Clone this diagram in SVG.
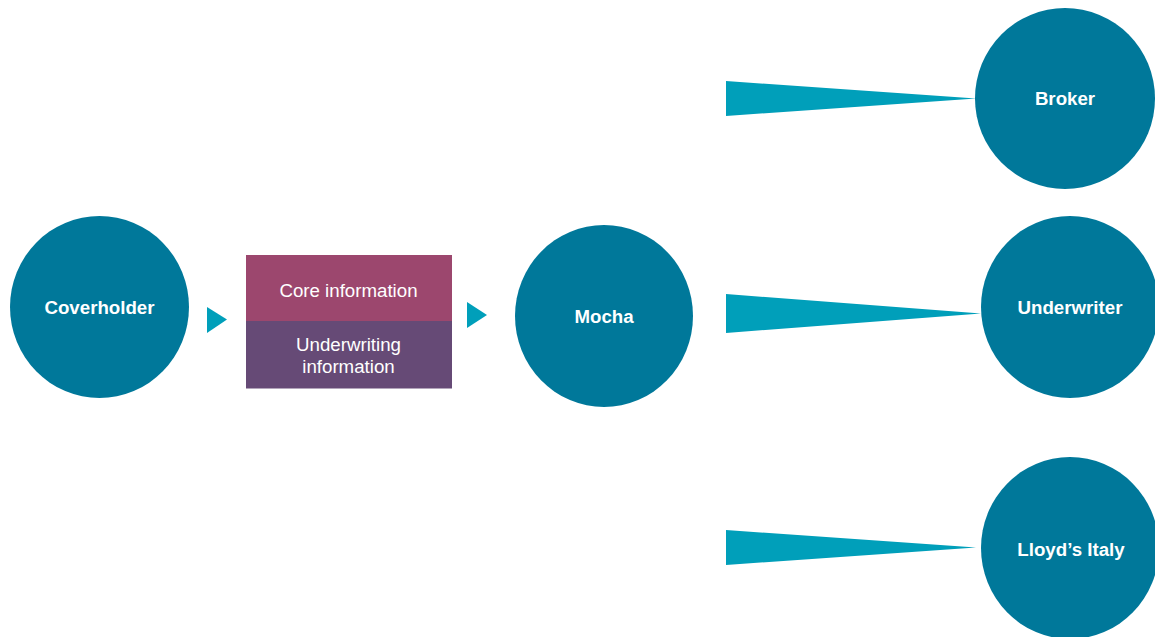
<svg xmlns="http://www.w3.org/2000/svg" width="1155" height="637" viewBox="0 0 1155 637">
<style>
.node{fill:#00789a}
.wedge{fill:#009fba}
.lbl{font-family:"Liberation Sans",Arial,sans-serif;font-size:18.7px;font-weight:bold;fill:#fff;text-anchor:middle}
.box{font-family:"Liberation Sans",Arial,sans-serif;font-size:18.7px;fill:#fff;text-anchor:middle}
</style>
<rect width="1155" height="637" fill="#fff"/>
<g id="connectors">
<polygon class="wedge" points="207,307 227,319.5 207,333"/>
<polygon class="wedge" points="467,302 487,315 467,328"/>
<polygon class="wedge" points="726,81 976,98.5 726,116"/>
<polygon class="wedge" points="726,294 981,313.5 726,333"/>
<polygon class="wedge" points="726,530 976,547.5 726,565"/>
</g>
<g id="coverholder">
<ellipse class="node" cx="99.5" cy="307" rx="89.5" ry="91"/>
<text class="lbl" x="99.5" y="314">Coverholder</text>
</g>
<g id="information">
<rect x="246" y="255" width="206" height="66" fill="#9c476e"/>
<rect x="246" y="321" width="206" height="67.5" fill="#664a76"/>
<text class="box" x="348.5" y="296.5">Core information</text>
<text class="box" x="348.5" y="350.5">Underwriting</text>
<text class="box" x="348.5" y="372.5">information</text>
</g>
<g id="mocha">
<ellipse class="node" cx="604" cy="316" rx="89" ry="91"/>
<text class="lbl" x="604" y="323">Mocha</text>
</g>
<g id="broker">
<ellipse class="node" cx="1065" cy="98.5" rx="90" ry="90.5"/>
<text class="lbl" x="1065" y="105">Broker</text>
</g>
<g id="underwriter">
<ellipse class="node" cx="1070" cy="307" rx="89" ry="91"/>
<text class="lbl" x="1070" y="313.5">Underwriter</text>
</g>
<g id="lloyds-italy">
<ellipse class="node" cx="1070" cy="548" rx="89" ry="91"/>
<text class="lbl" x="1071" y="556">Lloyd’s Italy</text>
</g>
</svg>
